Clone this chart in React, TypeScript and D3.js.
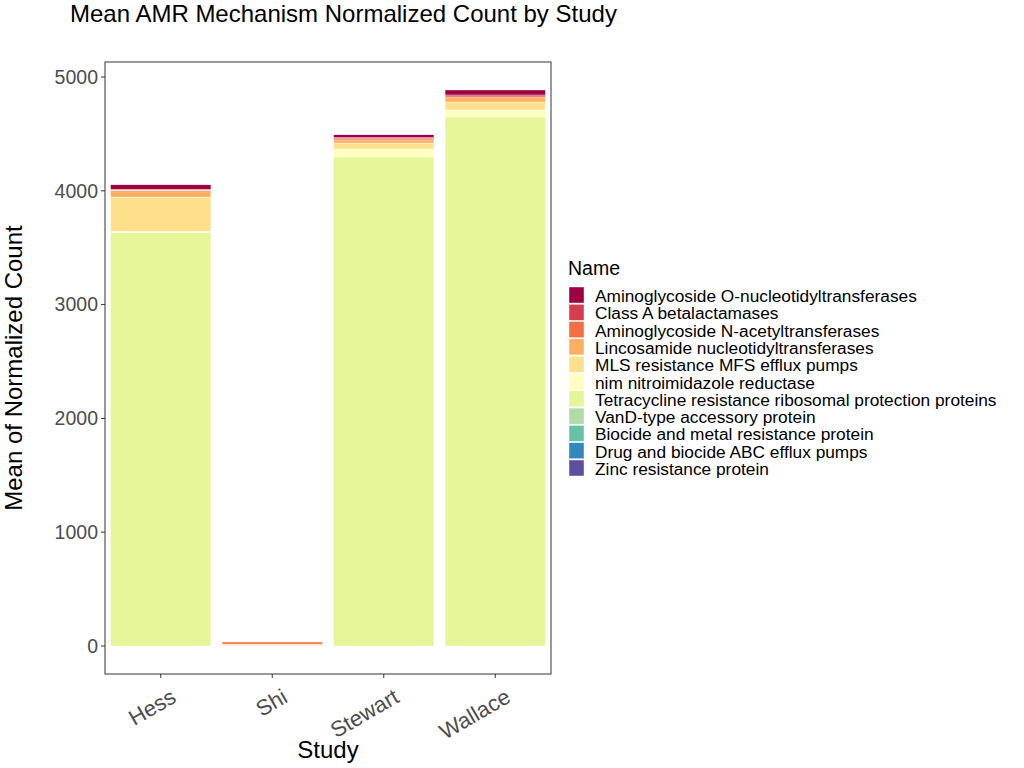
import { scaleBand, scaleLinear, stack } from "d3";

const studies = ["Hess", "Shi", "Stewart", "Wallace"];
const names = [
  "Aminoglycoside O-nucleotidyltransferases",
  "Class A betalactamases",
  "Aminoglycoside N-acetyltransferases",
  "Lincosamide nucleotidyltransferases",
  "MLS resistance MFS efflux pumps",
  "nim nitroimidazole reductase",
  "Tetracycline resistance ribosomal protection proteins",
  "VanD-type accessory protein",
  "Biocide and metal resistance protein",
  "Drug and biocide ABC efflux pumps",
  "Zinc resistance protein",
];
const colors = ["#9E0142", "#D53E4F", "#F46D43", "#FDAE61", "#FEE08B", "#FFFFBF", "#E6F598", "#ABDDA4", "#66C2A5", "#3288BD", "#5E4FA2"];
// values per study, in the order of names
const hess = [40, 8, 5, 55, 300, 10, 3635, 0, 0, 0, 0];
const shi = [0, 0, 18, 3, 12, 2, 0, 0, 0, 0, 0];
const stewart = [25, 10, 10, 27, 53, 70, 4297, 0, 0, 0, 0];
const wallace = [44, 17, 0, 45, 70, 62, 4648, 0, 0, 0, 0];
const yTicks = [0, 1000, 2000, 3000, 4000, 5000];

const table = [hess, shi, stewart, wallace].map((v, i) => {
  const row: any = { study: studies[i] };
  names.forEach((n, j) => (row[n] = v[j]));
  return row;
});

const L = 105, R = 551, T = 62, B = 674;
const x = scaleBand().domain(studies).range([L, R]).paddingInner(0.1).paddingOuter(0.05);
const y = scaleLinear().domain([0, 5000]).range([646, 77]);
// bottom of stack is the last name
const series = stack<any>().keys([...names].reverse())(table);

export default function App() {
  const font = "Liberation Sans, Arial, sans-serif";
  return (
    <svg width={1024} height={768} style={{ fontFamily: font, display: "block", position: "absolute", left: 0, top: 0 }}>
      <text x={70} y={22} fontSize={24}>Mean AMR Mechanism Normalized Count by Study</text>
      <rect x={L} y={T} width={R - L} height={B - T} fill="white" stroke="#333" strokeWidth={1} />
      {series.map((s) => {
        const c = colors[names.indexOf(s.key)];
        return s.map((d, i) =>
          d[1] - d[0] > 0 ? (
            <rect key={s.key + i} x={x(studies[i])} width={x.bandwidth()} y={y(d[1])}
              height={y(d[0]) - y(d[1])} fill={c} stroke="white" strokeWidth={0.4} />
          ) : null
        );
      })}
      {yTicks.map((t) => (
        <g key={t}>
          <line x1={L - 4} x2={L} y1={y(t)} y2={y(t)} stroke="#333" />
          <text x={L - 7} y={y(t)} dy="0.35em" textAnchor="end" fontSize={19.5} fill="#4d4d4d">{t}</text>
        </g>
      ))}
      {studies.map((s) => {
        const cx = x(s)! + x.bandwidth() / 2;
        return (
          <g key={s}>
            <line x1={cx} x2={cx} y1={B} y2={B + 4} stroke="#333" />
            <text transform={`translate(${cx + 8},${B + 12}) rotate(-30)`} textAnchor="end" dy="0.8em" fontSize={22} fill="#4d4d4d">{s}</text>
          </g>
        );
      })}
      <text x={328} y={758} textAnchor="middle" fontSize={24}>Study</text>
      <text transform={`translate(22,368) rotate(-90)`} textAnchor="middle" fontSize={24}>Mean of Normalized Count</text>
      <text x={568} y={275} fontSize={19.5}>Name</text>
      {names.map((n, i) => (
        <g key={n} transform={`translate(569,${287 + i * 17.3})`}>
          <rect width={15} height={16} fill={colors[i]} stroke="white" strokeWidth={0.4} />
          <text x={26} y={9} dy="0.35em" fontSize={17.3}>{n}</text>
        </g>
      ))}
    </svg>
  );
}
